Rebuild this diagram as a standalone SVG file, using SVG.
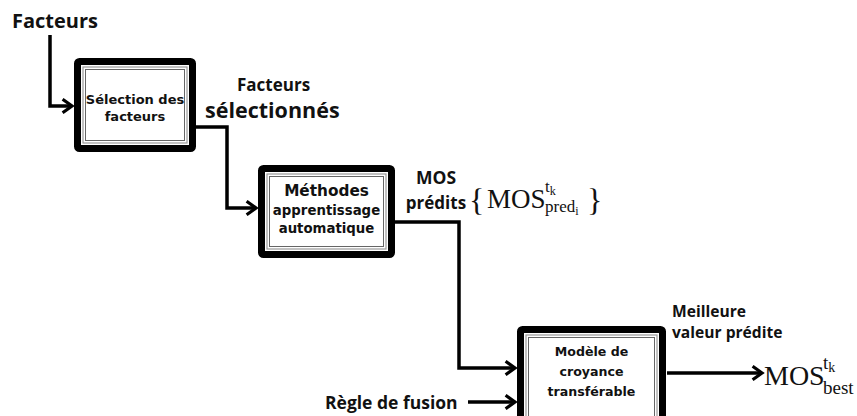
<svg xmlns="http://www.w3.org/2000/svg" width="857" height="416" viewBox="0 0 857 416">
<style>
.lbl{font-family:"Open Sans","Liberation Sans",sans-serif;font-weight:700;fill:#111}
.bt{font-family:"DejaVu Sans","Liberation Sans",sans-serif;font-weight:700;fill:#111;text-anchor:middle}
.box{fill:#fff;stroke:#000;stroke-width:7}
.in1{fill:none;stroke:#999;stroke-width:1.2}
.in2{fill:none;stroke:#666;stroke-width:1}
.con{fill:none;stroke:#000;stroke-width:3.5;stroke-linejoin:miter}
.math{font-family:"Liberation Serif","DejaVu Serif",serif;fill:#111}
</style>
<defs>
<marker id="ah" viewBox="0 0 12 12" refX="10" refY="6" markerWidth="4.6" markerHeight="4.6" orient="auto" markerUnits="strokeWidth">
<path d="M3,1 L10,6 L3,11" fill="none" stroke="#000" stroke-width="2.4"/>
</marker>
</defs>
<rect width="857" height="416" fill="#fff"/>
<g id="connectors">
<path class="con" d="M50,35 V106 H72" marker-end="url(#ah)"/>
<path class="con" d="M196,127 H227 V208 H256" marker-end="url(#ah)"/>
<path class="con" d="M395,222 H459 V368 H515" marker-end="url(#ah)"/>
<path class="con" d="M468,402 H515" marker-end="url(#ah)"/>
<path class="con" d="M667,373 H762" marker-end="url(#ah)"/>
</g>
<g id="n-facteurs"><text class="lbl" x="12" y="28" font-size="20">Facteurs</text></g>
<g id="n-selection">
<rect class="box" x="77.5" y="61.5" width="115" height="87" rx="2"/>
<rect class="in1" x="83" y="67" width="104" height="76"/>
<rect class="in2" x="85.5" y="69.5" width="99" height="71"/>
<text class="bt" font-size="13" x="135" y="104">Sélection des</text>
<text class="bt" font-size="13" x="135" y="121">facteurs</text>
</g>
<g id="l-facteurs-sel">
<text class="lbl" font-size="17" x="237" y="91">Facteurs</text>
<text class="lbl" font-size="21.5" x="205" y="118">sélectionnés</text>
</g>
<g id="n-methodes">
<rect class="box" x="261.5" y="168.5" width="130" height="86" rx="2"/>
<rect class="in1" x="267" y="174" width="119" height="75"/>
<rect class="in2" x="269.5" y="176.5" width="114" height="70"/>
<text class="bt" font-size="15.3" x="326.5" y="196">Méthodes</text>
<text class="bt" font-size="13.3" x="326.5" y="215">apprentissage</text>
<text class="bt" font-size="13.3" x="326.5" y="233">automatique</text>
</g>
<g id="l-mos-predits">
<text class="lbl" font-size="17.5" text-anchor="middle" x="436" y="184">MOS</text>
<text class="lbl" font-size="17" text-anchor="middle" x="436" y="209">prédits</text>
<text class="math" font-size="32" x="469" y="211">{</text>
<text class="math" font-size="27" x="487" y="208">MOS</text>
<text class="math" font-size="17" x="545" y="192">t<tspan font-size="12" dy="3">k</tspan></text>
<text class="math" font-size="17" x="545" y="212">pred<tspan font-size="12" dy="3">i</tspan></text>
<text class="math" font-size="32" x="587" y="211">}</text>
</g>
<g id="n-modele">
<rect class="box" x="520.5" y="329.5" width="142" height="96" rx="2"/>
<rect class="in1" x="526" y="335" width="131" height="85"/>
<rect class="in2" x="528.5" y="337.5" width="126" height="80"/>
<text class="bt" font-size="12.6" x="591.5" y="356">Modèle de</text>
<text class="bt" font-size="12.6" x="591.5" y="376">croyance</text>
<text class="bt" font-size="12.6" x="591.5" y="396">transférable</text>
</g>
<g id="l-meilleure">
<text class="lbl" font-size="15.6" x="672" y="317">Meilleure</text>
<text class="lbl" font-size="15.6" x="672" y="338">valeur prédite</text>
</g>
<g id="n-mos-best">
<text class="math" font-size="28" x="764" y="385">MOS</text>
<text class="math" font-size="19" x="823" y="369">t<tspan font-size="14" dy="3">k</tspan></text>
<text class="math" font-size="19" x="823" y="394">best</text>
</g>
<g id="n-fusion"><text class="lbl" font-size="17.5" x="325" y="409">Règle de fusion</text></g>
</svg>
